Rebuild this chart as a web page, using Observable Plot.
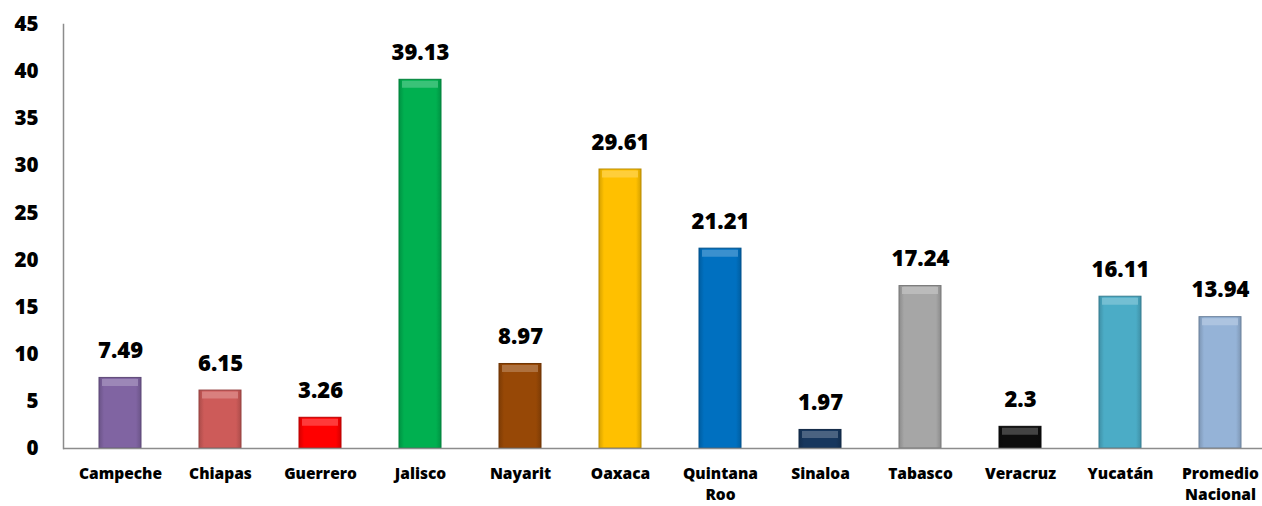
<!DOCTYPE html>
<html><head><meta charset="utf-8">
<script src="https://cdn.jsdelivr.net/npm/d3@7"></script>
<script src="https://cdn.jsdelivr.net/npm/@observablehq/plot@0.6"></script>
<style>
body{margin:0;background:#fff;overflow:hidden}
svg{font-family:"Open Sans",sans-serif}
</style>
</head><body><div id="chart"></div>
<script>
const states = ["Campeche","Chiapas","Guerrero","Jalisco","Nayarit","Oaxaca","Quintana Roo","Sinaloa","Tabasco","Veracruz","Yucatán","Promedio Nacional"];
const tickLabels = ["Campeche","Chiapas","Guerrero","Jalisco","Nayarit","Oaxaca","Quintana\nRoo","Sinaloa","Tabasco","Veracruz","Yucatán","Promedio\nNacional"];
const values = [7.49, 6.15, 3.26, 39.13, 8.97, 29.61, 21.21, 1.97, 17.24, 2.3, 16.11, 13.94];
const colors = ["#8064A2","#CD5B59","#FF0000","#00B050","#974806","#FFC000","#0070C0","#17375E","#A6A6A6","#0D0D0D","#4BACC6","#95B3D7"];
const yTicks = [0,5,10,15,20,25,30,35,40,45];

const data = states.map((s, i) => ({
  state: s,
  value: values[i],
  fill: `url(#grad${i})`,
  edge: d3.color(colors[i]).darker(0.9).formatHex(),
  light: d3.interpolateRgb(colors[i], "#ffffff")(0.3)
}));
const labelOf = new Map(states.map((s, i) => [s, tickLabels[i]]));

const chart = Plot.plot({
  width: 1262,
  height: 506,
  marginTop: 24,
  marginBottom: 58,
  marginLeft: 63,
  marginRight: 0,
  x: {domain: states, range: [64, 1275], paddingInner: 0.584, paddingOuter: 0.292},
  y: {domain: [0, 45]},
  color: {type: "identity"},
  marks: [
    Plot.axisY({ticks: yTicks, tickSize: 0, tickPadding: 25, fontSize: 20.5, fontWeight: 800, fill: "#000", label: null}),
    Plot.axisX({tickSize: 0, tickPadding: 15, fontSize: 15.5, fontWeight: 800, fill: "#000", label: null, tickFormat: d => labelOf.get(d), lineHeight: 1.38}),
    Plot.barY(data, {x: "state", y: "value", fill: "fill", stroke: "edge", strokeWidth: 1}),
    Plot.tickY(data, {x: "state", y: "value", stroke: "light", strokeWidth: 7, dy: 4.5, insetLeft: 3, insetRight: 3, strokeOpacity: 0.75}),
    Plot.ruleY([0], {stroke: "#8c8c8c", strokeWidth: 1.5}),
    Plot.frame({anchor: "left", stroke: "#8c8c8c", strokeWidth: 1.5}),
    Plot.text(data, {x: "state", y: "value", text: d => String(d.value), dy: -27, fontSize: 22, fontWeight: 800, fill: "#000"})
  ]
});

const defs = d3.select(chart).insert("defs", ":first-child");
colors.forEach((c, i) => {
  const g = defs.append("linearGradient").attr("id", `grad${i}`).attr("x1", "0").attr("x2", "1").attr("y1", "0").attr("y2", "0");
  const dark = d3.color(c).darker(0.5).formatHex();
  g.append("stop").attr("offset", "0%").attr("stop-color", dark);
  g.append("stop").attr("offset", "12%").attr("stop-color", c);
  g.append("stop").attr("offset", "88%").attr("stop-color", c);
  g.append("stop").attr("offset", "100%").attr("stop-color", dark);
});

document.getElementById("chart").appendChild(chart);
</script>
</body></html>
